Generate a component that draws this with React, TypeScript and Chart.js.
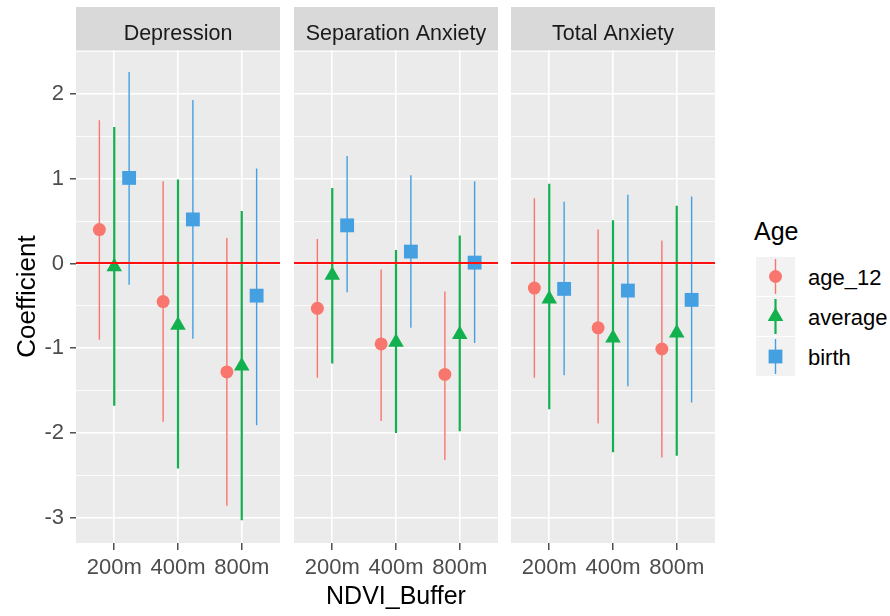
import React, { useEffect, useRef } from 'react';
import { Chart, registerables } from 'chart.js';

Chart.register(...registerables);

const FONT = '"Liberation Sans", Arial, sans-serif';

// ---- data ----
const panelTitles = ['Depression', 'Separation Anxiety', 'Total Anxiety'];
const bufferLabels = ['200m', '400m', '800m'];
const ageGroups = ['age_12', 'average', 'birth'];
const ageColors = ['#F8766D', '#12B04F', '#45A0E2'];
const yTickValues = [-3, -2.5, -2, -1.5, -1, -0.5, 0, 0.5, 1, 1.5, 2, 2.5];
const xAxisTitle = 'NDVI_Buffer';
const yAxisTitle = 'Coefficient';
const legendTitle = 'Age';

// each row: [estimate, lower, upper] for 200m, 400m, 800m
const depressionAge12 = [[0.40, -0.90, 1.69], [-0.45, -1.87, 0.97], [-1.28, -2.86, 0.30]];
const depressionAverage = [[-0.04, -1.68, 1.61], [-0.73, -2.42, 0.99], [-1.21, -3.03, 0.62]];
const depressionBirth = [[1.01, -0.25, 2.26], [0.52, -0.89, 1.93], [-0.38, -1.91, 1.12]];
const separationAge12 = [[-0.53, -1.35, 0.29], [-0.95, -1.86, -0.07], [-1.31, -2.32, -0.33]];
const separationAverage = [[-0.14, -1.18, 0.89], [-0.93, -2.00, 0.16], [-0.84, -1.98, 0.33]];
const separationBirth = [[0.45, -0.34, 1.27], [0.14, -0.76, 1.04], [0.01, -0.94, 0.97]];
const totalAge12 = [[-0.29, -1.35, 0.77], [-0.76, -1.89, 0.40], [-1.01, -2.29, 0.27]];
const totalAverage = [[-0.42, -1.72, 0.94], [-0.88, -2.23, 0.51], [-0.82, -2.27, 0.68]];
const totalBirth = [[-0.30, -1.32, 0.73], [-0.32, -1.45, 0.81], [-0.43, -1.64, 0.79]];

const panelData = [
  [depressionAge12, depressionAverage, depressionBirth],
  [separationAge12, separationAverage, separationBirth],
  [totalAge12, totalAverage, totalBirth],
];

const Y_MIN = -3.30;
const Y_MAX = 2.52;
const DODGE_WIDTH = 0.7;

// ---- styling / layout ----
const pointStyles = ['circle', 'triangle', 'rect'];
const pointRadii = [6.5, 9, 9.8];
const lineWidths = [1.4, 2.2, 1.4];
const PANEL_LEFT = [76, 294, 511];
const PANEL_W = 204;
const PANEL_TOP = 50;
const PANEL_BOTTOM = 543;
const CANVAS_H = 616;
const SIDE_PAD = 10;

const panelPlugin = (title: string) => ({
  id: 'facetPanel',
  beforeDraw(chart: any) {
    const { ctx, chartArea } = chart;
    ctx.save();
    ctx.fillStyle = '#EBEBEB';
    ctx.fillRect(chartArea.left, chartArea.top, chartArea.right - chartArea.left, chartArea.bottom - chartArea.top);
    ctx.fillStyle = '#D9D9D9';
    ctx.fillRect(chartArea.left, 7, chartArea.right - chartArea.left, chartArea.top - 7);
    ctx.fillStyle = '#1A1A1A';
    ctx.font = `21.5px ${FONT}`;
    ctx.textAlign = 'center';
    ctx.textBaseline = 'alphabetic';
    ctx.fillText(title, (chartArea.left + chartArea.right) / 2, 39.5);
    ctx.restore();
  },
  afterDatasetsDraw(chart: any) {
    const { ctx, chartArea } = chart;
    const y = Math.round(chart.scales.y.getPixelForValue(0));
    ctx.save();
    ctx.strokeStyle = '#FF1010';
    ctx.lineWidth = 2;
    ctx.beginPath();
    ctx.moveTo(chartArea.left, y);
    ctx.lineTo(chartArea.right, y);
    ctx.stroke();
    ctx.restore();
  },
});

function buildConfig(k: number): any {
  const series = panelData[k];
  const datasets: any[] = [];
  series.forEach((rows, s) => {
    const off = (s - 1) * DODGE_WIDTH / 3;
    datasets.push({
      type: 'scatter',
      label: ageGroups[s],
      data: rows.map((r, i) => ({ x: i + 1 + off, y: r[0] })),
      pointStyle: pointStyles[s],
      pointRadius: pointRadii[s],
      pointHoverRadius: pointRadii[s],
      backgroundColor: ageColors[s],
      borderColor: ageColors[s],
      pointBorderWidth: 0,
      borderWidth: 0,
      order: 0,
    });
    datasets.push({
      type: 'line',
      label: ageGroups[s] + ' CI',
      data: rows.flatMap((r, i) => [
        { x: i + 1 + off, y: r[1] },
        { x: i + 1 + off, y: r[2] },
        { x: i + 1 + off, y: null },
      ]),
      borderColor: ageColors[s],
      borderWidth: lineWidths[s],
      pointRadius: 0,
      showLine: true,
      spanGaps: false,
      fill: false,
      order: 1,
    });
  });

  const isFirst = k === 0;
  return {
    type: 'scatter',
    data: { datasets },
    plugins: [panelPlugin(panelTitles[k])],
    options: {
      responsive: false,
      animation: false,
      devicePixelRatio: 1,
      layout: {
        padding: { top: PANEL_TOP, bottom: 0, left: isFirst ? 0 : SIDE_PAD, right: SIDE_PAD },
      },
      plugins: { legend: { display: false }, tooltip: { enabled: false } },
      scales: {
        x: {
          type: 'linear',
          min: 0.4,
          max: 3.6,
          afterBuildTicks: (s: any) => {
            s.ticks = bufferLabels.map((_, i) => ({ value: i + 1 }));
          },
          afterFit: (s: any) => {
            s.height = CANVAS_H - PANEL_BOTTOM;
          },
          ticks: {
            callback: (v: any) => bufferLabels[Math.round(v) - 1] ?? '',
            font: { family: FONT, size: 22 },
            color: '#4D4D4D',
            padding: 5,
            maxRotation: 0,
            autoSkip: false,
          },
          grid: {
            color: '#FFFFFF',
            lineWidth: 1.6,
            tickColor: '#333333',
            tickLength: 7,
            tickWidth: 1.3,
          },
          border: { display: false },
          title: {
            display: k === 1,
            text: xAxisTitle,
            font: { family: FONT, size: 25 },
            color: '#000000',
            padding: { top: 0, bottom: 4 },
          },
        },
        y: {
          type: 'linear',
          min: Y_MIN,
          max: Y_MAX,
          afterBuildTicks: (s: any) => {
            s.ticks = yTickValues.map((v) => ({ value: v }));
          },
          afterFit: (s: any) => {
            s.width = isFirst ? PANEL_LEFT[0] : 0;
          },
          ticks: {
            display: isFirst,
            callback: (v: any) => (Number.isInteger(v) ? String(v) : ''),
            font: { family: FONT, size: 22 },
            color: '#4D4D4D',
            padding: 6,
          },
          grid: {
            color: '#FFFFFF',
            lineWidth: (c: any) => (c.tick && Number.isInteger(c.tick.value) ? 1.6 : 0.8),
            drawTicks: isFirst,
            tickLength: 6,
            tickWidth: 1.3,
            tickColor: (c: any) => (c.tick && Number.isInteger(c.tick.value) ? '#333333' : 'rgba(0,0,0,0)'),
          },
          border: { display: false },
          title: {
            display: isFirst,
            text: yAxisTitle,
            font: { family: FONT, size: 26 },
            color: '#000000',
            padding: { top: 12, bottom: 0 },
          },
        },
      },
    },
  };
}

function Panel({ k }: { k: number }) {
  const ref = useRef<HTMLCanvasElement | null>(null);
  useEffect(() => {
    if (!ref.current) return;
    const chart = new Chart(ref.current, buildConfig(k));
    return () => chart.destroy();
  }, [k]);
  const left = k === 0 ? 0 : PANEL_LEFT[k] - SIDE_PAD;
  const width = k === 0 ? PANEL_LEFT[0] + PANEL_W + SIDE_PAD : PANEL_W + 2 * SIDE_PAD;
  return (
    <canvas
      ref={ref}
      width={width}
      height={CANVAS_H}
      style={{ position: 'absolute', left, top: 0, width, height: CANVAS_H }}
    />
  );
}

function LegendKey({ s }: { s: number }) {
  const c = ageColors[s];
  let marker: any;
  if (s === 0) marker = <circle cx={19.5} cy={19.5} r={6.5} fill={c} />;
  else if (s === 1) marker = <polygon points="19.5,10.5 27.3,24 11.7,24" fill={c} />;
  else marker = <rect x={12.6} y={12.6} width={13.8} height={13.8} fill={c} />;
  return (
    <svg width={39} height={39} style={{ display: 'block' }}>
      <rect x={0} y={0} width={39} height={39} fill="#F2F2F2" />
      <line x1={19.5} y1={2} x2={19.5} y2={37} stroke={c} strokeWidth={lineWidths[s]} />
      {marker}
    </svg>
  );
}

export default function App() {
  return (
    <div
      style={{
        position: 'absolute',
        left: 0,
        top: 0,
        width: 890,
        height: 616,
        background: '#FFFFFF',
        fontFamily: FONT,
        overflow: 'hidden',
      }}
    >
      {[0, 1, 2].map((k) => (
        <Panel key={k} k={k} />
      ))}
      <div style={{ position: 'absolute', left: 754, top: 219, fontSize: 25, lineHeight: '25px', color: '#000' }}>
        {legendTitle}
      </div>
      {ageGroups.map((g, s) => (
        <React.Fragment key={g}>
          <div style={{ position: 'absolute', left: 756, top: 257 + s * 40 }}>
            <LegendKey s={s} />
          </div>
          <div
            style={{
              position: 'absolute',
              left: 808,
              top: 285.5 + s * 40 - 18.6,
              fontSize: 22,
              lineHeight: '22px',
              color: '#000',
              whiteSpace: 'nowrap',
            }}
          >
            {g}
          </div>
        </React.Fragment>
      ))}
    </div>
  );
}
